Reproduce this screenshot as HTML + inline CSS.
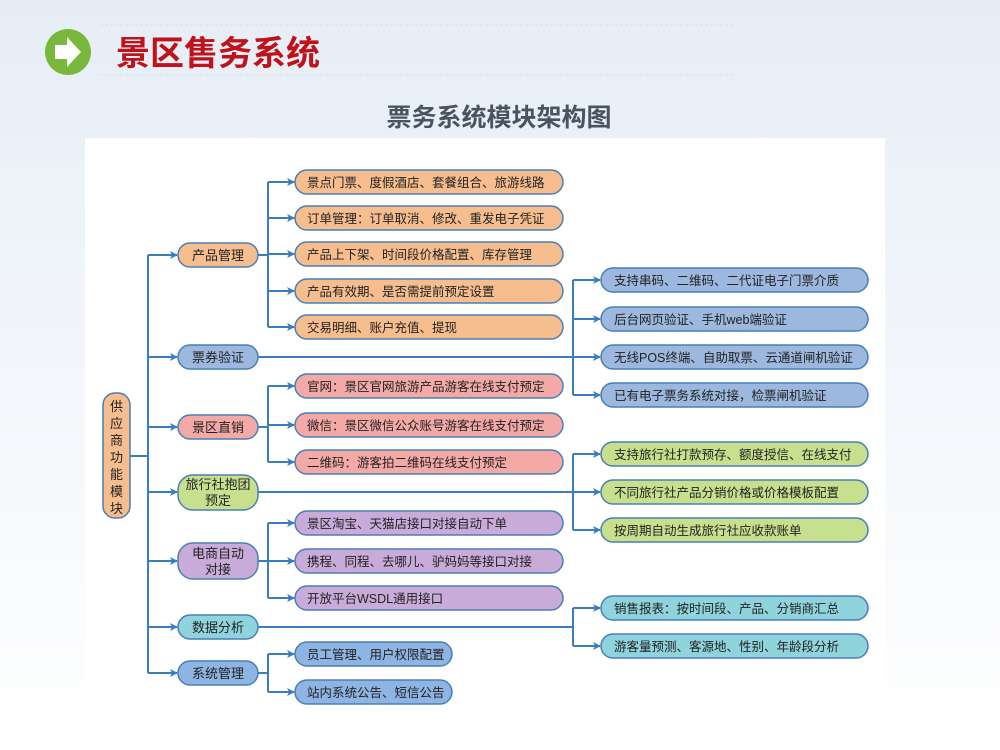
<!DOCTYPE html>
<html><head><meta charset="utf-8"><style>
body{margin:0;width:1000px;height:750px;overflow:hidden;background:#fff;font-family:"Liberation Sans","Noto Sans CJK SC",sans-serif}
</style></head><body>
<svg width="1000" height="750" xmlns="http://www.w3.org/2000/svg" style="display:block">
<defs>
<linearGradient id="bg" x1="0" y1="0" x2="0" y2="1">
<stop offset="0" stop-color="#e6edf5"/><stop offset="0.3" stop-color="#eef3f9"/><stop offset="1" stop-color="#ffffff"/>
</linearGradient>
<marker id="ar" markerWidth="8" markerHeight="8" refX="7" refY="4" orient="auto" markerUnits="userSpaceOnUse"><path d="M0,0 L8,4 L0,8 L2,4 z" fill="#3a7dbd"/></marker>
</defs>
<rect width="1000" height="750" fill="url(#bg)"/>
<rect x="85" y="138" width="800" height="575" fill="#fff"/>
<line x1="100" y1="25" x2="735" y2="25" stroke="#d8e0ea" stroke-dasharray="3,2"/>
<line x1="100" y1="75" x2="735" y2="75" stroke="#d8e0ea" stroke-dasharray="3,2"/>
<circle cx="68" cy="52" r="23" fill="#79b83d"/>
<path d="M55,45 h12 v-8 l14,15 l-14,15 v-8 h-12z" fill="#fff"/>
<text x="116" y="65" font-size="34" font-weight="bold" fill="#c0121b" font-family="Liberation Sans,Noto Sans CJK SC,sans-serif">景区售务系统</text>
<text x="499" y="126" font-size="25" font-weight="bold" fill="#4a5460" text-anchor="middle" font-family="Liberation Sans,Noto Sans CJK SC,sans-serif">票务系统模块架构图</text>

<g stroke="#3a7dbd" stroke-width="2" fill="none">
<line x1="130" y1="456" x2="148" y2="456"/>
<line x1="148" y1="255" x2="148" y2="673"/>
<line x1="148" y1="255" x2="177" y2="255" marker-end="url(#ar)"/>
<line x1="148" y1="357" x2="177" y2="357" marker-end="url(#ar)"/>
<line x1="148" y1="427" x2="177" y2="427" marker-end="url(#ar)"/>
<line x1="148" y1="492" x2="177" y2="492" marker-end="url(#ar)"/>
<line x1="148" y1="561" x2="177" y2="561" marker-end="url(#ar)"/>
<line x1="148" y1="627" x2="177" y2="627" marker-end="url(#ar)"/>
<line x1="148" y1="673" x2="177" y2="673" marker-end="url(#ar)"/>
<line x1="258" y1="255" x2="268" y2="255"/>
<line x1="268" y1="182" x2="268" y2="327"/>
<line x1="268" y1="182" x2="294" y2="182" marker-end="url(#ar)"/>
<line x1="268" y1="218" x2="294" y2="218" marker-end="url(#ar)"/>
<line x1="268" y1="254" x2="294" y2="254" marker-end="url(#ar)"/>
<line x1="268" y1="291" x2="294" y2="291" marker-end="url(#ar)"/>
<line x1="268" y1="327" x2="294" y2="327" marker-end="url(#ar)"/>
<line x1="258" y1="427" x2="268" y2="427"/>
<line x1="268" y1="386" x2="268" y2="462"/>
<line x1="268" y1="386" x2="294" y2="386" marker-end="url(#ar)"/>
<line x1="268" y1="425" x2="294" y2="425" marker-end="url(#ar)"/>
<line x1="268" y1="462" x2="294" y2="462" marker-end="url(#ar)"/>
<line x1="258" y1="561" x2="268" y2="561"/>
<line x1="268" y1="523" x2="268" y2="598"/>
<line x1="268" y1="523" x2="294" y2="523" marker-end="url(#ar)"/>
<line x1="268" y1="561" x2="294" y2="561" marker-end="url(#ar)"/>
<line x1="268" y1="598" x2="294" y2="598" marker-end="url(#ar)"/>
<line x1="258" y1="673" x2="268" y2="673"/>
<line x1="268" y1="654" x2="268" y2="692"/>
<line x1="268" y1="654" x2="294" y2="654" marker-end="url(#ar)"/>
<line x1="268" y1="692" x2="294" y2="692" marker-end="url(#ar)"/>
<line x1="258" y1="357" x2="573" y2="357"/>
<line x1="573" y1="280" x2="573" y2="395"/>
<line x1="573" y1="280" x2="600" y2="280" marker-end="url(#ar)"/>
<line x1="573" y1="319" x2="600" y2="319" marker-end="url(#ar)"/>
<line x1="573" y1="357" x2="600" y2="357" marker-end="url(#ar)"/>
<line x1="573" y1="395" x2="600" y2="395" marker-end="url(#ar)"/>
<line x1="258" y1="492" x2="573" y2="492"/>
<line x1="573" y1="454" x2="573" y2="530"/>
<line x1="573" y1="454" x2="600" y2="454" marker-end="url(#ar)"/>
<line x1="573" y1="492" x2="600" y2="492" marker-end="url(#ar)"/>
<line x1="573" y1="530" x2="600" y2="530" marker-end="url(#ar)"/>
<line x1="258" y1="627" x2="573" y2="627"/>
<line x1="573" y1="608" x2="573" y2="646"/>
<line x1="573" y1="608" x2="600" y2="608" marker-end="url(#ar)"/>
<line x1="573" y1="646" x2="600" y2="646" marker-end="url(#ar)"/>
</g>

<g stroke="#4a7fb5" stroke-width="1.5" font-size="12.5" fill="#222" font-family="Liberation Sans,Noto Sans CJK SC,sans-serif">
<rect x="103" y="393" width="27" height="125" rx="12" fill="#f6bd8f"/>
<g stroke="none" fill="#222" font-size="13" text-anchor="middle">
<text x="116.5" y="411">供</text><text x="116.5" y="428">应</text><text x="116.5" y="445">商</text><text x="116.5" y="462">功</text><text x="116.5" y="479">能</text><text x="116.5" y="496">模</text><text x="116.5" y="513">块</text>
</g>
<rect x="178" y="243" width="80" height="24" rx="12" fill="#f6bd8f"/>
<rect x="178" y="345" width="80" height="24" rx="12" fill="#9db8de"/>
<rect x="178" y="415" width="80" height="24" rx="12" fill="#f3a9a6"/>
<rect x="178" y="475" width="80" height="35" rx="15" fill="#c7e08d"/>
<rect x="178" y="543" width="80" height="36" rx="15" fill="#c9abd9"/>
<rect x="178" y="615" width="80" height="24" rx="12" fill="#8fd3dd"/>
<rect x="178" y="661" width="80" height="24" rx="12" fill="#8db4e3"/>
<g fill="#f6bd8f">
<rect x="295" y="170" width="268" height="24" rx="12"/><rect x="295" y="206" width="268" height="24" rx="12"/><rect x="295" y="242" width="268" height="24" rx="12"/><rect x="295" y="279" width="268" height="24" rx="12"/><rect x="295" y="315" width="268" height="24" rx="12"/>
</g>
<g fill="#f3a9a6">
<rect x="295" y="374" width="268" height="24" rx="12"/><rect x="295" y="413" width="268" height="24" rx="12"/><rect x="295" y="450" width="268" height="24" rx="12"/>
</g>
<g fill="#c9abd9">
<rect x="295" y="511" width="268" height="24" rx="12"/><rect x="295" y="549" width="268" height="24" rx="12"/><rect x="295" y="586" width="268" height="24" rx="12"/>
</g>
<g fill="#8db4e3">
<rect x="295" y="642" width="157" height="24" rx="12"/><rect x="295" y="680" width="157" height="24" rx="12"/>
</g>
<g fill="#9db8de">
<rect x="601" y="268" width="267" height="24" rx="12"/><rect x="601" y="307" width="267" height="24" rx="12"/><rect x="601" y="345" width="267" height="24" rx="12"/><rect x="601" y="383" width="267" height="24" rx="12"/>
</g>
<g fill="#c7e08d">
<rect x="601" y="442" width="267" height="24" rx="12"/><rect x="601" y="480" width="267" height="24" rx="12"/><rect x="601" y="518" width="267" height="24" rx="12"/>
</g>
<g fill="#8fd3dd">
<rect x="601" y="596" width="267" height="24" rx="12"/><rect x="601" y="634" width="267" height="24" rx="12"/>
</g>
<g stroke="none" fill="#222" text-anchor="middle" font-size="13">
<text x="218" y="260">产品管理</text><text x="218" y="362">票券验证</text><text x="218" y="432">景区直销</text>
<text x="218" y="489">旅行社抱团</text><text x="218" y="505">预定</text>
<text x="218" y="558">电商自动</text><text x="218" y="574">对接</text>
<text x="218" y="632">数据分析</text><text x="218" y="678">系统管理</text>
</g>
<g stroke="none" fill="#222">
<text x="307" y="187">景点门票、度假酒店、套餐组合、旅游线路</text>
<text x="307" y="223">订单管理：订单取消、修改、重发电子凭证</text>
<text x="307" y="259">产品上下架、时间段价格配置、库存管理</text>
<text x="307" y="296">产品有效期、是否需提前预定设置</text>
<text x="307" y="332">交易明细、账户充值、提现</text>
<text x="307" y="391">官网：景区官网旅游产品游客在线支付预定</text>
<text x="307" y="430">微信：景区微信公众账号游客在线支付预定</text>
<text x="307" y="467">二维码：游客拍二维码在线支付预定</text>
<text x="307" y="528">景区淘宝、天猫店接口对接自动下单</text>
<text x="307" y="566">携程、同程、去哪儿、驴妈妈等接口对接</text>
<text x="307" y="603">开放平台WSDL通用接口</text>
<text x="307" y="659">员工管理、用户权限配置</text>
<text x="307" y="697">站内系统公告、短信公告</text>
<text x="614" y="285">支持串码、二维码、二代证电子门票介质</text>
<text x="614" y="324">后台网页验证、手机web端验证</text>
<text x="614" y="362">无线POS终端、自助取票、云通道闸机验证</text>
<text x="614" y="400">已有电子票务系统对接，检票闸机验证</text>
<text x="614" y="459">支持旅行社打款预存、额度授信、在线支付</text>
<text x="614" y="497">不同旅行社产品分销价格或价格模板配置</text>
<text x="614" y="535">按周期自动生成旅行社应收款账单</text>
<text x="614" y="613">销售报表：按时间段、产品、分销商汇总</text>
<text x="614" y="651">游客量预测、客源地、性别、年龄段分析</text>
</g>
</g>
</svg>
</body></html>
